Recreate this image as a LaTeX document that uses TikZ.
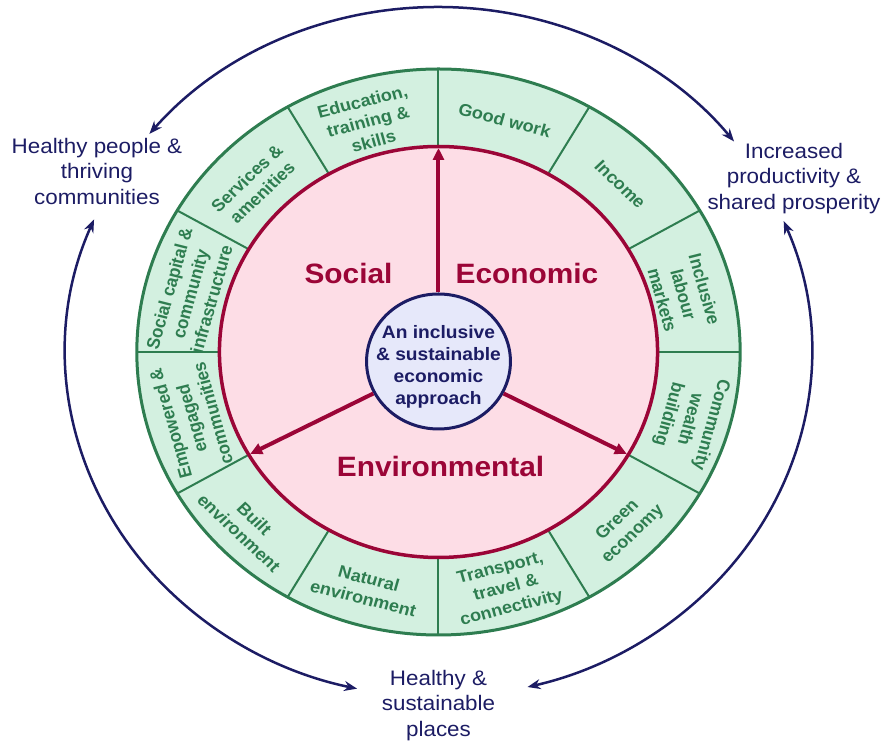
\documentclass[tikz,border=0pt]{standalone}
\usepackage{fontspec}
\setmainfont{Liberation Sans}
\usetikzlibrary{arrows.meta}
\definecolor{ringgreen}{RGB}{46,125,80}
\definecolor{ringfill}{RGB}{211,240,224}
\definecolor{wheelred}{RGB}{155,5,55}
\definecolor{wheelfill}{RGB}{253,221,230}
\definecolor{navy}{RGB}{28,28,100}
\definecolor{corefill}{RGB}{230,232,250}
\tikzset{
  ringlabel/.style={font=\fontsize{17}{20.5}\selectfont\bfseries, text=ringgreen, align=center, inner sep=0pt, xscale=1.066},
  pillar/.style={font=\fontsize{28}{32}\selectfont\bfseries, text=wheelred, anchor=base, xscale=1.066},
  outcome/.style={font=\fontsize{21}{25.5}\selectfont, text=navy, align=center, xscale=1.066},
  spoke/.style={draw=wheelred, line width=4pt, -{Triangle[length=12pt,width=11pt]}},
  cyclearc/.style={draw=navy, line width=2.5pt, {Stealth[length=13pt,width=10pt]}-{Stealth[length=13pt,width=10pt]}},
}
\begin{document}
\begin{tikzpicture}[x=1.066pt, y=1pt, line join=round]
  \useasboundingbox (-438.5pt,-391pt) rectangle (445.5pt,352pt);
  % ring and wheel
  \fill[ringfill] (0,0) circle (283);
  \fill[wheelfill] (0,0) circle (205.5);
  \foreach \a in {0,30,...,330}
    \draw[ringgreen, line width=2pt] (\a:205.5) -- (\a:283);
  \draw[ringgreen, line width=3pt] (0,0) circle (283);
  \draw[wheelred, line width=3.5pt] (0,0) circle (205.5);
  % core
  \node[draw=navy, line width=3pt, fill=corefill, circle, minimum size=135pt, inner sep=0pt, xscale=1.066] (core) at (0,-9.5) {};
  \node[font=\fontsize{18}{22}\selectfont\bfseries, text=navy, align=center, xscale=1.066] (coretext) at (0,-15) {An inclusive\\\& sustainable\\economic\\approach};
  \coordinate (divtop) at (90:204);
  \coordinate (divright) at (-30:204);
  \coordinate (divleft) at (-150:204);
  \draw[spoke] (core) -- (divtop);
  \draw[spoke] (core) -- (divright);
  \draw[spoke] (core) -- (divleft);
  % pillars
  \node[pillar] (social) at (-84.4,68) {Social};
  \node[pillar] (economic) at (83,68) {Economic};
  \node[pillar] (environmental) at (1.9,-125) {Environmental};
  % ring labels
  \node[ringlabel, rotate=15] (educ) at (106:240) {Education,\\training \&\\skills};
  \node[ringlabel, rotate=-15] (work) at (75:240) {Good work};
  \node[ringlabel, rotate=-45] (income) at (44.5:239) {Income};
  \node[ringlabel, rotate=-75] (labour) at (14:237) {Inclusive\\labour\\markets};
  \node[ringlabel, rotate=-105] (wealth) at (-16:245) {Community\\wealth\\building};
  \node[ringlabel, rotate=45] (green) at (-45:248) {Green\\economy};
  \node[ringlabel, rotate=15] (transport) at (-75:245) {Transport,\\travel \&\\connectivity};
  \node[ringlabel, rotate=-15] (natural) at (-106:246) {Natural\\environment};
  \node[ringlabel, rotate=-45] (built) at (-136:250) {Built\\environment};
  \node[ringlabel, rotate=105] (empower) at (-164:241) {Empowered \&\\engaged\\communities};
  \node[ringlabel, rotate=75] (capital) at (166:240) {Social capital \&\\community\\infrastructure};
  \node[ringlabel, rotate=45] (services) at (136:240) {Services \&\\amenities};
  % outcomes
  \node[outcome] (people) at (-320.4,180.6) {Healthy people \&\\thriving\\communities};
  \node[outcome] (prosperity) at (333.5,173.5) {Increased\\productivity \&\\shared prosperity};
  \node[outcome] (places) at (0,-353.5) {Healthy \&\\sustainable\\places};
  \draw[cyclearc] (140.8:350 and 345) arc[start angle=140.8, end angle=37.6, x radius=350, y radius=345];
  \draw[cyclearc] (22.3:350 and 345) arc[start angle=22.3, end angle=-76.2, x radius=350, y radius=345];
  \draw[cyclearc] (157.4:350 and 345) arc[start angle=157.4, end angle=257.4, x radius=350, y radius=345];
\end{tikzpicture}
\end{document}
